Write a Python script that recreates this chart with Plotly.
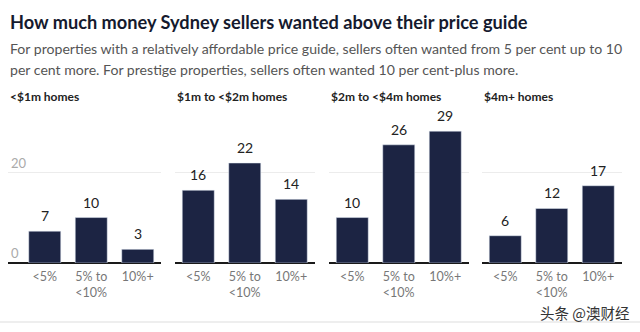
import plotly.graph_objects as go

W, H = 640, 332

categories = ["<5%", "5% to<br><10%", "10%+"]
panel_titles = ["<$1m homes", "$1m to <$2m homes", "$2m to <$4m homes", "$4m+ homes"]
values = {
    "<$1m homes": [7, 10, 3],
    "$1m to <$2m homes": [16, 22, 14],
    "$2m to <$4m homes": [10, 26, 29],
    "$4m+ homes": [6, 12, 17],
}
y_ticks = [0, 20]

title = "How much money Sydney sellers wanted above their price guide"
subtitle_lines = [
    "For properties with a relatively affordable price guide, sellers often wanted from 5 per cent up to 10",
    "per cent more. For prestige properties, sellers often wanted 10 per cent-plus more.",
]

FONT = "Lato"
BAR = "#1c2443"

# pixel layout of each panel (left, right) and x-range
panels_px = [(8, 161, [-0.79, 2.5]), (175, 314.5, [-0.5, 2.5]),
             (329, 468.5, [-0.5, 2.5]), (482, 621.5, [-0.5, 2.5])]
y_bottom_px, y_top_px = 263, 113

def py(ypx):
    return (H - ypx) / H

fig = go.Figure()
annotations = []
for i, name in enumerate(panel_titles):
    n = "" if i == 0 else str(i + 1)
    xa, ya = "x" + n, "y" + n
    vals = values[name]
    fig.add_trace(go.Bar(x=categories, y=vals, marker_color=BAR, xaxis=xa, yaxis=ya,
                         showlegend=False, hoverinfo="skip"))
    l, r, xr = panels_px[i]
    fig.layout["xaxis" + n] = dict(domain=[l / W, r / W], range=xr, anchor=ya,
                                   type="category", showgrid=False, ticks="",
                                   ticklabelstandoff=4,
                                   tickfont=dict(family=FONT, size=12.5, color="#777"),
                                   showline=False, zeroline=False, fixedrange=True)
    fig.layout["yaxis" + n] = dict(domain=[py(y_bottom_px), py(y_top_px)], range=[0, 33],
                                   anchor=xa, tickvals=y_ticks, showgrid=True,
                                   gridcolor="#ececec", gridwidth=1,
                                   zeroline=True, zerolinecolor="#1a1a1a", zerolinewidth=2,
                                   showticklabels=(i == 0), ticklabelposition="inside top",
                                   tickfont=dict(family=FONT, size=13, color="#aaa"),
                                   fixedrange=True)
    for c, v in zip(categories, vals):
        annotations.append(dict(x=c, y=v, xref=xa, yref=ya, text=str(v), showarrow=False,
                                yanchor="bottom", yshift=5,
                                font=dict(family=FONT, size=14, color="#222")))
    annotations.append(dict(x=l / W, y=py(97), xref="paper", yref="paper",
                            text="<b>" + name.replace("<", "&lt;") + "</b>",
                            showarrow=False, xanchor="left", yanchor="middle",
                            font=dict(family=FONT, size=12, color="#222")))

annotations.append(dict(x=8 / W, y=py(22), xref="paper", yref="paper", text="<b>" + title + "</b>",
                        showarrow=False, xanchor="left", yanchor="middle",
                        font=dict(family=FONT, size=18.2, color="#151a2e")))
for k, line in enumerate(subtitle_lines):
    annotations.append(dict(x=8 / W, y=py(48 + 21.5 * k), xref="paper", yref="paper", text=line,
                            showarrow=False, xanchor="left", yanchor="middle",
                            font=dict(family=FONT, size=14.1, color="#555")))
annotations.append(dict(x=631 / W, y=py(312), xref="paper", yref="paper", text="头条 @澳财经",
                        showarrow=False, xanchor="right", yanchor="middle",
                        font=dict(family="Noto Sans CJK SC", size=14.5, color="#333")))

fig.update_layout(width=W, height=H, margin=dict(l=0, r=0, t=0, b=0),
                  paper_bgcolor="white", plot_bgcolor="white", bargap=0.312,
                  annotations=annotations,
                  shapes=[dict(type="line", xref="paper", yref="paper", x0=0, x1=1,
                               y0=py(322), y1=py(322), line=dict(color="#dddddd", width=1))])

fig.write_html("out.html")
